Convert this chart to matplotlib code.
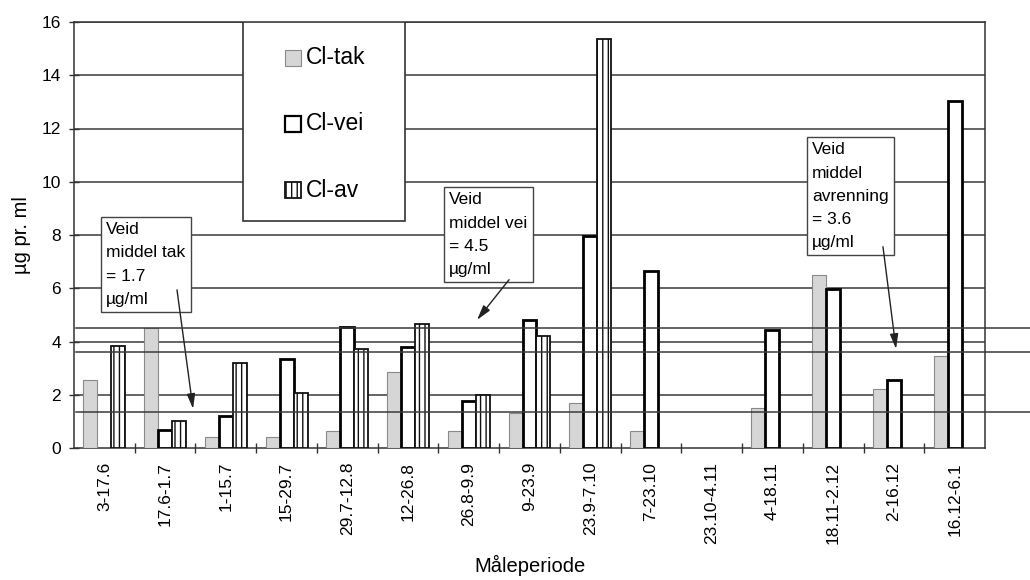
import numpy as np
import matplotlib
matplotlib.use("Agg")
import matplotlib.pyplot as plt
from matplotlib.patches import Rectangle
from matplotlib.lines import Line2D
import matplotlib.transforms as mtransforms

plt.rcParams['font.family'] = ['Liberation Sans', 'DejaVu Sans']
plt.rcParams['hatch.linewidth'] = 1.0

categories = ['3-17.6', '17.6-1.7', '1-15.7', '15-29.7', '29.7-12.8', '12-26.8',
              '26.8-9.9', '9-23.9', '23.9-7.10', '7-23.10', '23.10-4.11',
              '4-18.11', '18.11-2.12', '2-16.12', '16.12-6.1']
nan = np.nan
cl_tak = [2.55, 4.5, 0.4, 0.4, 0.65, 2.85, 0.62, 1.3, 1.68, 0.64, nan, 1.5, 6.5, 2.2, 3.45]
cl_vei = [nan, 0.67, 1.2, 3.35, 4.55, 3.8, 1.78, 4.8, 7.95, 6.65, nan, 4.45, 5.97, 2.55, 13.05]
cl_av = [3.82, 1.0, 3.2, 2.05, 3.72, 4.67, 2.0, 4.22, 15.35, nan, nan, nan, nan, nan, nan]
series_names = ['Cl-tak', 'Cl-vei', 'Cl-av']
mean_levels = [1.37, 4.5, 3.62]
y_ticks = [0, 2, 4, 6, 8, 10, 12, 14, 16]

fig = plt.figure(figsize=(10.3, 5.8), dpi=100)
ax = fig.add_axes([74/1030, 1-448/580, 911/1030, 426/580])

x = np.arange(len(categories))
w = 0.23
grid_c = '#3a3a3a'

styles = [
    dict(color='#d6d6d6', edgecolor='#8a8a8a', linewidth=0.8),
    dict(color='white', edgecolor='black', linewidth=2.0),
    dict(color='white', edgecolor='#111111', linewidth=1.3, hatch='|||'),
]
for k, (vals, st) in enumerate(zip([cl_tak, cl_vei, cl_av], styles)):
    ax.bar(x + (k - 1) * w, vals, width=w, zorder=3, **st)

ax.set_xlim(-0.5, len(categories) - 0.5)
ax.set_ylim(0, 16)
ax.set_yticks(y_ticks)
ax.set_yticklabels([str(v) for v in y_ticks], fontsize=12.5)
for v in y_ticks[1:]:
    ax.axhline(v, color=grid_c, lw=1.1, zorder=1)

# weighted-mean lines, extending beyond the frame
trans = mtransforms.blended_transform_factory(fig.transFigure, ax.transData)
for m in mean_levels:
    fig.add_artist(Line2D([76/1030, 1.0], [m, m], transform=trans,
                          color=grid_c, lw=1.1, zorder=1))

ax.set_xticks(x)
ax.set_xticklabels(categories, rotation=90, fontsize=12.5)
ax.tick_params(axis='x', which='major', length=0, pad=10)
ax.set_xticks(np.arange(0.5, len(categories) - 1, 1.0), minor=True)
ax.tick_params(axis='x', which='minor', direction='inout', length=7, width=1, color='#333')
ax.tick_params(axis='y', direction='inout', length=6.5, width=1, color='#333', pad=6)

for s in ax.spines.values():
    s.set_color('#333333')
    s.set_linewidth(1.1)

ax.set_xlabel('Måleperiode', fontsize=14.5, labelpad=8)
ax.set_ylabel('µg pr. ml', fontsize=14.5, labelpad=8)

# legend box (manual)
ax.add_patch(Rectangle((0.1855, 0.5336), 0.1778, 0.4664, transform=ax.transAxes,
                       facecolor='white', edgecolor='#333333', lw=1.2, zorder=6))
leg_y = [0.9155, 0.7606, 0.6056]
mh = 0.036
for k, (name, st) in enumerate(zip(series_names, styles)):
    st2 = dict(st)
    fc = st2.pop('color')
    lw = min(st2.pop('linewidth'), 1.6)
    ax.add_patch(Rectangle((0.2316, leg_y[k] - mh/2), 0.0175, mh, transform=ax.transAxes,
                           facecolor=fc, lw=lw, zorder=7, **st2))
    ax.text(0.2547, leg_y[k], name, transform=ax.transAxes, fontsize=16.5,
            va='center', ha='left', zorder=8)

# annotations
box = dict(boxstyle='square,pad=0.3', facecolor='white', edgecolor='#444444', lw=1.0)
arrow = dict(arrowstyle='-|>,head_length=0.9,head_width=0.25', color='#222222', lw=1.0,
             shrinkA=0, shrinkB=0)
notes = [
    ('Veid\nmiddel tak\n= 1.7\nµg/ml', (0.03, 8.48), (1.196, 5.94), (1.46, 1.47)),
    ('Veid\nmiddel vei\n= 4.5\nµg/ml', (5.68, 9.6), (6.663, 6.32), (6.136, 4.81)),
    ('Veid\nmiddel\navrenning\n= 3.6\nµg/ml', (11.65, 11.48), (12.82, 7.56), (13.035, 3.72)),
]
for txt, pos, tail, head in notes:
    ax.text(pos[0], pos[1], txt, fontsize=12.5, ha='left', va='top', bbox=box,
            zorder=9, linespacing=1.68)
    ax.annotate('', xy=head, xytext=tail, arrowprops=arrow, zorder=9)

fig.savefig('out.png', dpi=100)
